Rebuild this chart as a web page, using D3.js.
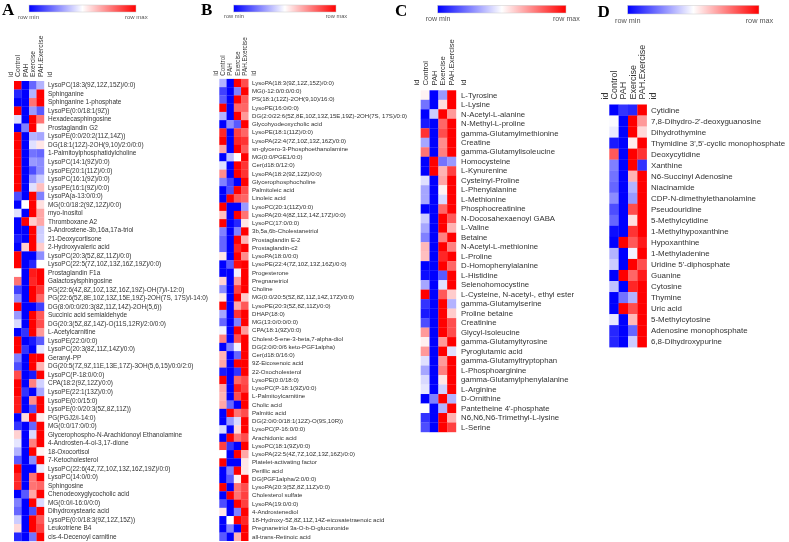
<!DOCTYPE html>
<html><head><meta charset="utf-8">
<script src="https://cdn.jsdelivr.net/npm/d3@7"></script>
<style>html,body{margin:0;padding:0;background:#fff}svg{display:block;filter:blur(.3px)}</style>
</head><body><div id="c"></div>
<script>
const groups=["Control","PAH","Exercise","PAH.Exercise"];
const legendEnds=["row min","row max"];

const namesA=["LysoPC(18:3(9Z,12Z,15Z)/0:0)","Sphinganine","Sphinganine 1-phosphate","LysoPE(0:0/18:1(9Z))","Hexadecasphingosine","Prostaglandin G2","LysoPE(0:0/20:2(11Z,14Z))","DG(18:1(12Z)-2OH(9,10)/2:0/0:0)","1-Palmitoylphosphatidylcholine","LysoPC(14:1(9Z)/0:0)","LysoPE(20:1(11Z)/0:0)","LysoPC(16:1(9Z)/0:0)","LysoPE(16:1(9Z)/0:0)","LysoPA(a-13:0/0:0)","MG(0:0/18:2(9Z,12Z)/0:0)","myo-Inositol","Thromboxane A2","5-Androstene-3b,16a,17a-triol","21-Deoxycortisone","2-Hydroxyvaleric acid","LysoPC(20:3(5Z,8Z,11Z)/0:0)","LysoPC(22:5(7Z,10Z,13Z,16Z,19Z)/0:0)","Prostaglandin F1a","Galactosylsphingosine","PG(22:6(4Z,8Z,10Z,13Z,16Z,19Z)-OH(7)/i-12:0)","PG(22:6(5Z,8E,10Z,13Z,15E,19Z)-2OH(7S, 17S)/i-14:0)","DG(8:0/0:0/20:3(8Z,11Z,14Z)-2OH(5,6))","Succinic acid semialdehyde","DG(20:3(5Z,8Z,14Z)-O(11S,12R)/2:0/0:0)","L-Acetylcarnitine","LysoPE(22:0/0:0)","LysoPC(20:3(8Z,11Z,14Z)/0:0)","Geranyl-PP","DG(20:5(7Z,9Z,11E,13E,17Z)-3OH(5,6,15)/0:0/2:0)","LysoPC(P-18:0/0:0)","CPA(18:2(9Z,12Z)/0:0)","LysoPE(22:1(13Z)/0:0)","LysoPE(0:0/15:0)","LysoPE(0:0/20:3(5Z,8Z,11Z))","PG(PGJ2/i-14:0)","MG(0:0/17:0/0:0)","Glycerophospho-N-Arachidonoyl Ethanolamine","4-Androsten-4-ol-3,17-dione","18-Oxocortisol","7-Ketocholesterol","LysoPC(22:6(4Z,7Z,10Z,13Z,16Z,19Z)/0:0)","LysoPC(14:0/0:0)","Sphingosine","Chenodeoxyglycocholic acid","MG(0:0/i-16:0/0:0)","Dihydroxystearic acid","LysoPE(0:0/18:3(9Z,12Z,15Z))","Leukotriene B4","cis-4-Decenoyl carnitine"];
const valuesA=[[1,-1,-.6,-.3],[-.85,-1,-.3,1],[-1,-1,.55,1],[1,-1,-.4,-.65],[-.12,-1,1,.55],[-1,-.5,1,.03],[1,-1,-.3,-.35],[1,-1,-.12,.1],[1,-1,-.55,-.6],[1,-1,-.4,-.45],[1,-1,-.7,-.45],[1,-1,-.4,-.2],[1,-1,-.12,.25],[-.7,-1,1,-.5],[-1,0,1,.12],[-.12,-1,1,.35],[-1,1,.2,.35],[-1,-1,1,-.2],[-.9,-1,1,-.18],[-1,.2,1,.2],[1,-1,-1,-.45],[1,-1,-.85,0],[0,-1,.9,1],[.55,-1,.85,1],[-.75,-1,1,.8],[-.45,-1,1,.6],[1,-1,-1,-.75],[-.4,-1,1,.65],[-.15,-1,1,.7],[-1,-.8,1,.4],[1,-1,-.9,-.65],[1,-.8,-1,-.1],[-.5,-1,1,1],[-.7,-1,1,.3],[.7,-1,-.9,1],[1,-1,.5,-.18],[1,-.8,-1,-.35],[.9,-1,.45,1],[.9,-1,-.7,1],[-1,.15,1,.08],[-.8,-1,-.6,1],[.18,-1,-.15,1],[-.1,-1,.5,1],[-.3,-1,1,.05],[-.65,-1,-.45,1],[1,-1,-1,-.08],[.85,-1,.55,1],[.85,-1,.55,.6],[-1,-.65,.35,1],[-.5,-1,1,-.15],[-.6,-1,-.7,1],[-.2,-1,1,.65],[.15,-1,1,.75],[-.85,-1,-.55,1]];

const namesB=["LysoPA(18:3(9Z,12Z,15Z)/0:0)","MG(i-12:0/0:0/0:0)","PS(18:1(12Z)-2OH(9,10)/16:0)","LysoPE(16:0/0:0)","DG(2:0/22:6(5Z,8E,10Z,13Z,15E,19Z)-2OH(7S, 17S)/0:0)","Glycohyodeoxycholic acid","LysoPE(18:1(11Z)/0:0)","LysoPA(22:4(7Z,10Z,13Z,16Z)/0:0)","sn-glycero-3-Phosphoethanolamine","MG(0:0/PGE1/0:0)","Cer(d18:0/12:0)","LysoPA(18:2(9Z,12Z)/0:0)","Glycerophosphocholine","Palmitoleic acid","Linoleic acid","LysoPC(20:1(11Z)/0:0)","LysoPA(20:4(8Z,11Z,14Z,17Z)/0:0)","LysoPC(17:0/0:0)","3b,5a,6b-Cholestanetriol","Prostaglandin E-2","Prostaglandin-c2","LysoPA(18:0/0:0)","LysoPE(22:4(7Z,10Z,13Z,16Z)/0:0)","Progesterone","Pregnanetriol","Choline","MG(0:0/20:5(5Z,8Z,11Z,14Z,17Z)/0:0)","LysoPE(20:3(5Z,8Z,11Z)/0:0)","DHAP(18:0)","MG(13:0/0:0/0:0)","CPA(18:1(9Z)/0:0)","Cholest-5-ene-3-beta,7-alpha-diol","DG(2:0/0:0/6 keto-PGF1alpha)","Cer(d18:0/16:0)","9Z-Eicosenoic acid","22-Oxocholesterol","LysoPE(0:0/18:0)","LysoPC(P-18:1(9Z)/0:0)","L-Palmitoylcarnitine","Cholic acid","Palmitic acid","DG(2:0/0:0/18:1(12Z)-O(9S,10R))","LysoPC(P-16:0/0:0)","Arachidonic acid","LysoPC(18:1(9Z)/0:0)","LysoPA(22:5(4Z,7Z,10Z,13Z,16Z)/0:0)","Platelet-activating factor","Perillic acid","DG(PGF1alpha/2:0/0:0)","LysoPA(20:3(5Z,8Z,11Z)/0:0)","Cholesterol sulfate","LysoPA(19:0/0:0)","4-Androstenediol","18-Hydroxy-5Z,8Z,11Z,14Z-eicosatetraenoic acid","Pregnanetriol 3a-O-b-D-glucuronide","all-trans-Retinoic acid"];
const valuesB=[[-.3,-1,1,.7],[-.75,-1,-.5,1],[-.65,-1,1,.65],[1,-1,.6,.6],[-.3,-1,1,.4],[-1,-.45,-.65,1],[.85,-1,.75,.6],[1,-1,.85,.8],[.35,-1,1,.65],[-1,-.25,0,1],[-.12,-1,1,.8],[.45,-1,1,.8],[-.5,-.75,-1,1],[-1,-.7,1,.7],[-1,1,.65,.6],[1,-1,-1,-.4],[.25,-1,1,.55],[1,-1,-.85,.1],[-.5,-1,-.5,1],[-.6,-1,1,.3],[-.6,-1,.85,1],[.1,-1,1,.45],[-1,-.65,.95,1],[-1,-1,-.05,1],[.18,-1,.4,1],[-.45,-1,.75,1],[.08,-1,1,.2],[1,-1,.35,.65],[-.35,-1,.8,1],[-.6,-1,-.5,1],[-.05,-1,1,.4],[.5,-1,.7,1],[-1,-.5,-.05,1],[.3,-1,-.6,1],[.35,-1,1,1],[-.9,-1,-.8,1],[1,-1,.6,.7],[.35,-1,.9,.75],[.3,-1,.7,1],[.35,-.6,-1,1],[-1,1,.55,.7],[-1,-.4,-.15,1],[-.15,-1,.15,1],[-1,1,.55,.7],[.75,-.8,-1,1],[0,-1,1,.35],[1,-1,-1,.1],[-1,-.5,1,.1],[-1,-.65,.05,1],[1,-1,.55,.7],[-1,1,.55,.75],[-.7,-1,1,.75],[.1,-1,-.5,1],[-1,0,1,.85],[-1,-.5,-1,1],[-.65,-1,.3,1]];

const namesC=["L-Tyrosine","L-Lysine","N-Acetyl-L-alanine","N-Methyl-L-proline","gamma-Glutamylmethionine","Creatine","gamma-Glutamylisoleucine","Homocysteine","L-Kynurenine","Cysteinyl-Proline","L-Phenylalanine","L-Methionine","Phosphocreatinine","N-Docosahexaenoyl GABA","L-Valine","Betaine","N-Acetyl-L-methionine","L-Proline","D-Homophenylalanine","L-Histidine","Selenohomocystine","L-Cysteine, N-acetyl-, ethyl ester","gamma-Glutamylserine","Proline betaine","Creatinine","Glycyl-Isoleucine","gamma-Glutamyltyrosine","Pyroglutamic acid","gamma-Glutamyltryptophan","L-Phosphoarginine","gamma-Glutamylphenylalanine","L-Arginine","D-Ornithine","Pantetheine 4'-phosphate","N6,N6,N6-Trimethyl-L-lysine","L-Serine"];
const valuesC=[[.05,-1,-.4,1],[-.55,-1,.12,1],[-1,-.2,1,.4],[-.9,-1,.6,1],[.8,-1,.7,1],[-.35,-1,.45,1],[.55,-1,.5,1],[-1,1,-.55,-.4],[-1,1,.3,.75],[-.12,-1,.35,1],[-.35,-1,.05,1],[-.35,-1,-.15,1],[-1,-1,.6,1],[-.2,-1,1,.65],[-.35,-1,1,.3],[-.5,-1,.5,1],[.28,-1,1,.5],[.25,-1,.85,1],[-1,-1,1,.6],[-.95,-1,-.65,1],[-.35,-1,-.12,1],[1,-1,.65,.2],[-.8,-1,1,-.3],[-.9,-1,1,.2],[-.7,-1,1,.7],[.4,-1,1,.7],[.06,-1,.4,1],[.4,-1,1,-.12],[-.12,-1,.4,1],[-.35,-1,.5,1],[-.15,-1,.1,1],[-.1,-1,-.18,1],[-1,-.5,1,-.3],[0,-1,-.3,1],[-.8,-1,1,.3],[-.7,-1,1,.75]];

const namesD=["Cytidine","7,8-Dihydro-2'-deoxyguanosine","Dihydrothymine","Thymidine 3',5'-cyclic monophosphate","Deoxycytidine","Xanthine","N6-Succinyl Adenosine","Niacinamide","CDP-N-dimethylethanolamine","Pseudouridine","5-Methylcytidine","1-Methylhypoxanthine","Hypoxanthine","1-Methyladenine","Uridine 5'-diphosphate","Guanine","Cytosine","Thymine","Uric acid","5-Methylcytosine","Adenosine monophosphate","6,8-Dihydroxypurine"];
const valuesD=[[-1,-.8,-.85,1],[-.02,-1,1,.4],[-.08,-1,1,.15],[-.9,-1,.08,1],[.65,-1,1,.8],[-.5,-1,1,-.8],[-.55,-1,.3,1],[-.6,-1,-.3,1],[-.45,-1,-.4,1],[-.7,-1,.7,1],[-.6,-1,.12,1],[-.95,-1,.8,1],[-1,1,.65,.9],[-.3,-1,-.05,1],[-.2,-1,1,.7],[-1,1,.6,.9],[-.25,-1,.85,1],[-1,-.55,-.3,1],[-1,1,.7,1],[-.1,-1,.28,1],[-.85,-1,-.6,1],[-.85,-1,-.2,1]];

/* layout only */
const panels=[
 {tag:"A",names:namesA,values:valuesA,tagX:2,tagY:14.5,x0:14,x1:44,y0:81,y1:541,fs:6.45,hfs:6.8,hBase:77,pad:4,idL:10.7,idR:50,bar:[29,136,5,12],minX:18,maxX:125,legY:18.5,legFs:6},
 {tag:"B",names:namesB,values:valuesB,tagX:201,tagY:15,x0:219.3,x1:248.3,y0:78.9,y1:540.8,fs:6.1,hfs:6.3,hBase:75.7,pad:3.7,idL:215.7,idR:254,bar:[233.7,336,5,12],minX:224,maxX:325.7,legY:18,legFs:5.7},
 {tag:"C",names:namesC,values:valuesC,tagX:395,tagY:16,x0:420.7,x1:456,y0:90.3,y1:432,fs:7.8,hfs:7.6,hBase:85.5,pad:5,idL:416,idR:463,bar:[437.7,566,5.3,13],minX:425.7,maxX:553,legY:20.5,legFs:7.1},
 {tag:"D",names:namesD,values:valuesD,tagX:597.5,tagY:16.7,x0:609.3,x1:646.7,y0:104.5,y1:347.2,fs:7.95,hfs:9,hBase:99.5,pad:4.3,idL:605,idR:653.3,bar:[627.7,759,5.3,14],minX:615,maxX:745.7,legY:22.5,legFs:7.3}
];
const ink="#333";
const W=789,H=542;
const svg=d3.select("#c").append("svg").attr("width",W).attr("height",H)
  .style("font-family","'Liberation Sans',Arial,sans-serif");
const color=d3.scaleLinear().domain([-1,0,1]).range(["#0000ff","#ffffff","#ff0000"]);
const defs=svg.append("defs");
const grad=defs.append("linearGradient").attr("id","rowgrad");
[-1,0,1].forEach(v=>grad.append("stop").attr("offset",((v+1)/2*100)+"%").attr("stop-color",color(v)));

panels.forEach(p=>{
  const g=svg.append("g");
  g.append("text").attr("x",p.tagX).attr("y",p.tagY).text(p.tag)
    .style("font-family","'Liberation Serif',serif").style("font-weight","bold").style("font-size","17px").attr("fill","#000");
  // legend bar
  g.append("rect").attr("x",p.bar[0]).attr("y",p.bar[2]).attr("width",p.bar[1]-p.bar[0]).attr("height",p.bar[3]-p.bar[2])
    .attr("fill","url(#rowgrad)").attr("stroke","#ccc").attr("stroke-width",.5);
  g.append("text").attr("x",p.minX).attr("y",p.legY).text(legendEnds[0]).attr("fill","#555").style("font-size",p.legFs+"px");
  g.append("text").attr("x",p.maxX).attr("y",p.legY).text(legendEnds[1]).attr("fill","#555").style("font-size",p.legFs+"px");
  // scales
  const x=d3.scaleBand().domain(groups).range([p.x0,p.x1]);
  const y=d3.scaleBand().domain(p.names).range([p.y0,p.y1]);
  const rows=p.names.map((n,i)=>({n,v:p.values[i]}));
  g.append("g").selectAll("g").data(rows).join("g").selectAll("rect")
    .data(r=>groups.map((c,j)=>({n:r.n,c,v:r.v[j]}))).join("rect")
    .attr("x",d=>x(d.c)).attr("y",d=>y(d.n)).attr("width",x.bandwidth()+.2).attr("height",y.bandwidth()+.2)
    .attr("fill",d=>color(d.v));
  // row labels
  const ay=g.append("g").attr("transform",`translate(${p.x1},0)`).call(d3.axisRight(y).tickSize(0).tickPadding(p.pad));
  ay.select(".domain").remove();
  ay.selectAll("text").attr("fill",ink).style("font-size",p.fs+"px").style("font-family","inherit");
  // column labels
  const ax=g.append("g").attr("transform",`translate(0,${p.hBase})`).call(d3.axisTop(x).tickSize(0).tickPadding(0));
  ax.select(".domain").remove();
  ax.selectAll("text").attr("fill",ink).attr("transform","rotate(-90)").attr("text-anchor","start")
    .attr("x",0).attr("y",0).attr("dy",p.hfs*.35).style("font-size",p.hfs+"px").style("font-family","inherit");
  // "id" headers
  [p.idL,p.idR].forEach(cx=>g.append("text").attr("transform",`translate(${cx+p.hfs*.35},${p.hBase}) rotate(-90)`)
    .attr("fill",ink).style("font-size",p.hfs+"px").text("id"));
});
</script></body></html>
